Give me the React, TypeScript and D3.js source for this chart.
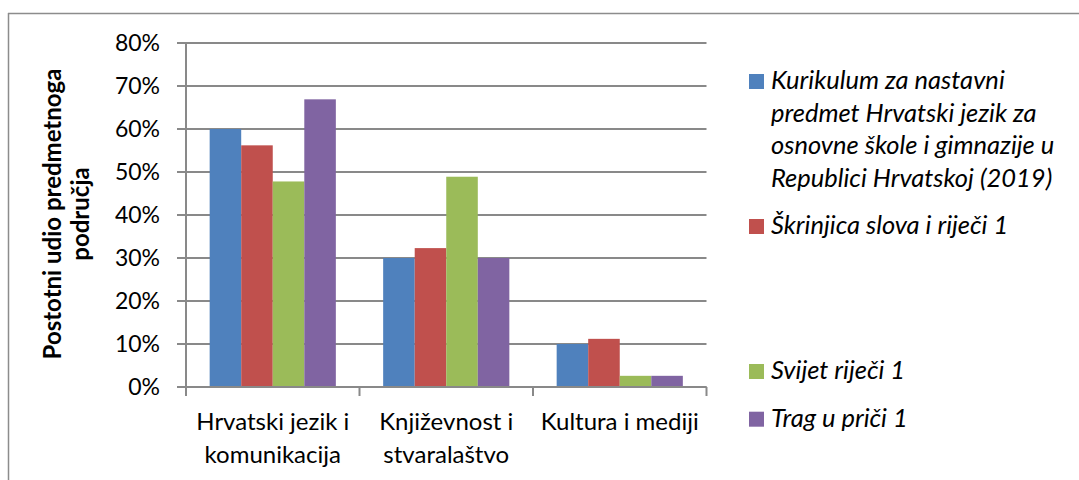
import React from "react";
import * as d3 from "d3";

const categories = [
  ["Hrvatski jezik i", "komunikacija"],
  ["Književnost i", "stvaralaštvo"],
  ["Kultura i mediji"],
];
const seriesNames = [
  ["Kurikulum za nastavni", "predmet Hrvatski jezik za", "osnovne škole i gimnazije u", "Republici Hrvatskoj (2019)"],
  ["Škrinjica slova i riječi 1"],
  ["Svijet riječi 1"],
  ["Trag u priči 1"],
];
const seriesColors = ["#4F81BD", "#C0504D", "#9BBB59", "#8064A2"];
// values per series, in category order
const kurikulum = [0.60, 0.30, 0.10];
const skrinjica = [0.562, 0.323, 0.112];
const svijet = [0.478, 0.489, 0.026];
const trag = [0.669, 0.30, 0.026];
const seriesValues = [kurikulum, skrinjica, svijet, trag];
const yTicks = [0, 0.1, 0.2, 0.3, 0.4, 0.5, 0.6, 0.7, 0.8];
const yTitle = ["Postotni udio predmetnoga", "područja"];

const FONT = "Lato, 'Open Sans', sans-serif";

export default function App() {
  const W = 1079, H = 480;
  const left = 186, right = 706.5, top = 43, bottom = 387;
  const catKeys = categories.map((_, i) => String(i));
  const x0 = d3.scaleBand<string>().domain(catKeys).range([left, right]).padding(0);
  const x1 = d3.scaleBand<string>().domain(seriesNames.map((_, i) => String(i)))
    .range([0, x0.bandwidth()]).paddingInner(0).paddingOuter(0.75);
  const y = d3.scaleLinear().domain([0, 0.8]).range([bottom, top]);
  const grid = "#898989";

  const legendBaselines = [[89, 121.6, 154.2, 186.8], [234], [379], [426.7]];

  return (
    <svg width={W} height={H} style={{ position: "absolute", left: 0, top: 0 }} fontFamily={FONT}>
      <rect x={0} y={0} width={W} height={H} fill="#fff" />
      {/* outer border */}
      <line x1={8.5} y1={13} x2={8.5} y2={H} stroke="#8c8c8c" strokeWidth={1.5} />
      <line x1={8} y1={13.5} x2={W} y2={13.5} stroke="#8c8c8c" strokeWidth={1.5} />

      {/* gridlines */}
      {yTicks.map((t) => (
        <line key={"g" + t} x1={177} x2={right} y1={y(t)} y2={y(t)} stroke={grid} strokeWidth={2} />
      ))}
      {/* y tick labels */}
      {yTicks.map((t) => (
        <text key={"yl" + t} x={160} y={y(t) + 8} textAnchor="end" fontSize={23} fill="#000">
          {d3.format(".0%")(t)}
        </text>
      ))}

      {/* bars */}
      {seriesValues.map((vals, si) =>
        vals.map((v, ci) => (
          <rect
            key={`b${si}-${ci}`}
            x={(x0(String(ci)) as number) + (x1(String(si)) as number)}
            y={y(v)}
            width={x1.bandwidth()}
            height={y(0) - y(v)}
            fill={seriesColors[si]}
          />
        ))
      )}

      {/* axes */}
      <line x1={left} x2={left} y1={top} y2={bottom} stroke={grid} strokeWidth={2} />
      <line x1={left} x2={right} y1={bottom} y2={bottom} stroke={grid} strokeWidth={2} />
      {[left, ...catKeys.map((k) => (x0(k) as number) + x0.bandwidth())].map((xv, i) => (
        <line key={"xt" + i} x1={xv} x2={xv} y1={bottom} y2={396} stroke={grid} strokeWidth={2} />
      ))}

      {/* category labels */}
      {categories.map((lines, ci) => (
        <text key={"c" + ci} textAnchor="middle" fontSize={24} fill="#000">
          {lines.map((ln, li) => (
            <tspan key={li} x={(x0(String(ci)) as number) + x0.bandwidth() / 2} y={430 + li * 33.3}>
              {ln}
            </tspan>
          ))}
        </text>
      ))}

      {/* y title */}
      <g transform="translate(0,214) rotate(-90)">
        {yTitle.map((ln, i) => (
          <text key={i} x={0} y={61 + i * 28} textAnchor="middle" fontSize={24} fontWeight="bold" fill="#000">
            {ln}
          </text>
        ))}
      </g>

      {/* legend */}
      {seriesNames.map((lines, si) => (
        <g key={"l" + si}>
          <rect x={749} y={legendBaselines[si][0] - 15} width={15} height={15} fill={seriesColors[si]} />
          <text fontSize={25.5} fontStyle="italic" fill="#000">
            {lines.map((ln, li) => (
              <tspan key={li} x={771} y={legendBaselines[si][li]}>
                {ln}
              </tspan>
            ))}
          </text>
        </g>
      ))}
    </svg>
  );
}
